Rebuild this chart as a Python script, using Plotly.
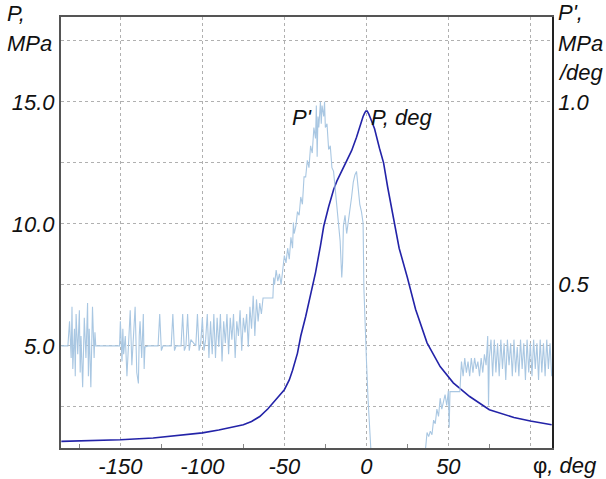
import plotly.graph_objects as go

# Pressure P (MPa) vs crank angle phi (deg)
p_phi = [-186, -170, -150, -130, -115, -100, -90, -80, -75, -70, -65, -60, -55, -50, -47, -45,
         -42, -40, -37, -35, -33, -31, -28, -26, -23, -20, -18, -15, -12, -9, -6, -4, -2, -1, -0.3, 0.5,
         1.5, 3, 5, 8, 10.5, 13, 16.5, 20, 25, 30, 37, 45, 53, 63, 75, 90, 100, 113]
p_val = [1.08, 1.10, 1.15, 1.22, 1.32, 1.43, 1.55, 1.68, 1.76, 1.90, 2.10, 2.42, 2.80, 3.20, 3.60, 4.00,
         4.70, 5.40, 6.20, 6.80, 7.45, 8.00, 9.10, 9.90, 10.7, 11.4, 11.75, 12.15, 12.55, 13.0, 13.55, 14.0, 14.4, 14.55, 14.62, 14.62,
         14.5, 14.25, 13.9, 13.1, 12.5, 11.5, 10.2, 9.0, 7.8, 6.5, 5.12, 4.15, 3.48, 2.92, 2.38, 2.06, 1.92, 1.76]

# Derivative P' (MPa/deg) vs phi (deg)
dp_phi = [-186, -182, -181, -180, -179.5, -179, -178, -177.5, -177, -176, -175, -174.5, -174, -173, -172, -171,
          -170, -169.5, -169, -168, -167, -166, -165.5, -165, -150.5,
          -150, -149, -148.5, -148, -147, -146, -145, -144, -143, -142, -141, -140, -139, -138.5, -138, -137,
          -136, -135.5, -135, -133,
          -127, -126, -125, -124, -119, -118, -117, -116, -113, -112, -111, -110, -109, -108, -107, -104,
          -103, -102, -101, -100, -99, -98, -97, -96,
          -95, -94, -93, -92, -91, -90, -89, -88, -87, -86, -85, -84, -83, -82, -81, -80, -79, -78, -77, -76,
          -75, -74, -73, -72, -71, -70, -69, -68, -67, -66, -65, -64, -63, -57,
          -56.5, -56, -55, -54, -53, -52, -51, -50, -49, -48, -47, -46, -45, -44.5, -44, -43, -42, -41, -40,
          -39, -38, -37, -36, -35, -34, -33, -32, -31, -30.5, -30, -29.5, -29, -28, -27.5, -27, -26, -25.5,
          -25, -24, -23, -22, -21, -20, -19, -18, -17, -16, -15, -14.5, -14, -13, -12, -11, -10, -9, -8, -7,
          -6, -5, -4, -3, -2, -1.5, -1, 0, 1, 2, 2.5, 4, 34,
          36, 37, 38, 39, 40, 41, 42, 43, 44, 45, 46, 47, 48, 49, 50, 50.5, 51, 57,
          58, 59, 60, 61, 62, 63, 64, 65, 66, 67, 68, 69, 70, 71, 72, 73, 74, 74.5, 75, 76, 77, 78, 79, 80,
          81, 82, 83, 84, 85, 86, 87, 88, 89, 90, 91, 92, 93, 94, 95, 96, 97, 98, 99, 100, 101, 102, 103,
          104, 105, 106, 107, 108, 109, 110, 111, 112, 113]
dp_val = [0.333, 0.333, 0.40, 0.30, 0.44, 0.27, 0.38, 0.25, 0.42, 0.31, 0.43, 0.26, 0.36, 0.22, 0.41, 0.30,
          0.45, 0.25, 0.38, 0.22, 0.44, 0.30, 0.37, 0.333, 0.333,
          0.40, 0.29, 0.38, 0.31, 0.36, 0.25, 0.34, 0.43, 0.28, 0.35, 0.44, 0.26, 0.23, 0.36, 0.40, 0.30,
          0.42, 0.27, 0.33, 0.333,
          0.333, 0.42, 0.32, 0.333, 0.333, 0.42, 0.32, 0.333, 0.333, 0.42, 0.32, 0.333, 0.42, 0.32, 0.35, 0.333,
          0.42, 0.32, 0.34, 0.41, 0.32, 0.35, 0.42, 0.30,
          0.40, 0.31, 0.42, 0.30, 0.41, 0.33, 0.42, 0.29, 0.40, 0.34, 0.42, 0.31, 0.41, 0.35, 0.42, 0.30, 0.40, 0.36, 0.43, 0.32,
          0.41, 0.37, 0.42, 0.33, 0.44, 0.38, 0.47, 0.36, 0.46, 0.40, 0.45, 0.42, 0.464, 0.464,
          0.52, 0.50, 0.54, 0.51, 0.53, 0.50, 0.55, 0.58, 0.56, 0.60, 0.57, 0.63, 0.60, 0.67, 0.64, 0.66, 0.70, 0.69, 0.74,
          0.72, 0.795, 0.795, 0.84, 0.82, 0.88, 0.86, 0.93, 0.90, 0.99, 0.85, 0.96, 0.93, 1.00, 0.94, 0.99, 0.96, 1.00,
          0.93, 0.94, 0.87, 0.88, 0.82, 0.81, 0.76, 0.72, 0.68, 0.62, 0.52, 0.56, 0.66, 0.69, 0.64, 0.67, 0.70, 0.74, 0.78, 0.80,
          0.81, 0.76, 0.72, 0.70, 0.669, 0.49, 0.40, 0.30, 0.19, 0.10, 0.057, -0.05, -0.05,
          0.057, 0.096, 0.085, 0.10, 0.09, 0.13, 0.12, 0.16, 0.14, 0.19, 0.16, 0.18, 0.20, 0.17, 0.21, 0.11, 0.208, 0.208,
          0.29, 0.25, 0.30, 0.26, 0.29, 0.25, 0.30, 0.26, 0.30, 0.27, 0.29, 0.25, 0.30, 0.26, 0.31, 0.28, 0.36, 0.17, 0.30, 0.35, 0.25, 0.35, 0.26, 0.34,
          0.25, 0.35, 0.27, 0.34, 0.24, 0.35, 0.28, 0.34, 0.25, 0.35, 0.26, 0.33, 0.25, 0.35, 0.27, 0.34, 0.24, 0.35, 0.26, 0.34, 0.25, 0.35, 0.27,
          0.34, 0.24, 0.35, 0.26, 0.34, 0.25, 0.35, 0.27, 0.34, 0.25]

x_ticks = [-150, -100, -50, 0, 50, 100]
x_ticktext = ["-150", "-100", "-50", "0", "50", ""]
y_ticks = [2.5, 5.0, 7.5, 10.0, 12.5, 15.0, 17.5]
y_ticktext = ["", "5.0", "", "10.0", "", "15.0", ""]
y2_ticks = [0.5, 1.0]
y2_ticktext = ["0.5", "1.0"]

FONT = "Liberation Sans, Arial, sans-serif"
tfont = dict(family=FONT, size=22, color="#111", style="italic")

L, R, T, B = 61, 552, 17, 448
PW, PH = R - L, B - T

fig = go.Figure()
fig.add_trace(go.Scatter(x=dp_phi, y=dp_val, yaxis="y2", mode="lines",
                         line=dict(color="#a9c7e2", width=1.1), showlegend=False))
fig.add_trace(go.Scatter(x=p_phi, y=p_val, mode="lines",
                         line=dict(color="#2323a8", width=1.6), showlegend=False))

fig.update_layout(
    width=606, height=479,
    margin=dict(l=L, r=606 - R, t=T, b=479 - B, autoexpand=False),
    paper_bgcolor="white", plot_bgcolor="white",
    font=tfont,
    xaxis=dict(range=[-186.2, 113.2], tickvals=x_ticks, ticktext=x_ticktext, automargin=False,
               showgrid=True, gridcolor="#b0b0b0", griddash="dot", gridwidth=1,
               showline=True, linecolor="#555", linewidth=2, mirror=True,
               ticks="", zeroline=False, tickfont=tfont, ticklabelstandoff=-2,
               minor=dict(tickvals=[-175, -125, -75, -25, 25, 75], ticks="inside", ticklen=4,
                          tickcolor="#888", showgrid=False)),
    yaxis=dict(range=[0.81, 18.48], tickvals=y_ticks, ticktext=y_ticktext, automargin=False,
               showgrid=True, gridcolor="#b0b0b0", griddash="dot", gridwidth=1,
               showline=True, linecolor="#555", linewidth=2,
               ticks="", zeroline=False, tickfont=tfont),
    yaxis2=dict(range=[0.0538, 1.232], tickvals=y2_ticks, ticktext=y2_ticktext, automargin=False,
                overlaying="y", side="right", showgrid=False,
                showline=True, linecolor="#222", linewidth=1.5,
                ticks="", zeroline=False, tickfont=tfont),
)

annos = [
    dict(x=5, y=14, text="P,"), dict(x=5, y=44, text="MPa"),
    dict(x=556, y=13, text="P',"), dict(x=556, y=43, text="MPa"), dict(x=556, y=72, text="/deg"),
]
for a in annos:
    fig.add_annotation(xref="paper", yref="paper",
                       x=(a["x"] - L) / PW, y=(B - a["y"]) / PH, text=a["text"], showarrow=False,
                       xanchor="left", yanchor="middle", font=tfont)
fig.add_annotation(xref="paper", yref="paper", x=(599 - L) / PW, y=(B - 465) / PH,
                   text="<span style='font-style:normal'>φ</span>, deg", showarrow=False,
                   xanchor="right", yanchor="middle", font=tfont)
fig.add_annotation(x=-39, y=14.34, text="P'", showarrow=False, font=tfont)
fig.add_annotation(x=1.5, y=14.34, text="P, deg", showarrow=False, xanchor="left", font=tfont)

fig.write_html("out.html", config={"displayModeBar": False},
               post_script="document.body.style.margin='0';document.body.style.overflow='hidden';")
